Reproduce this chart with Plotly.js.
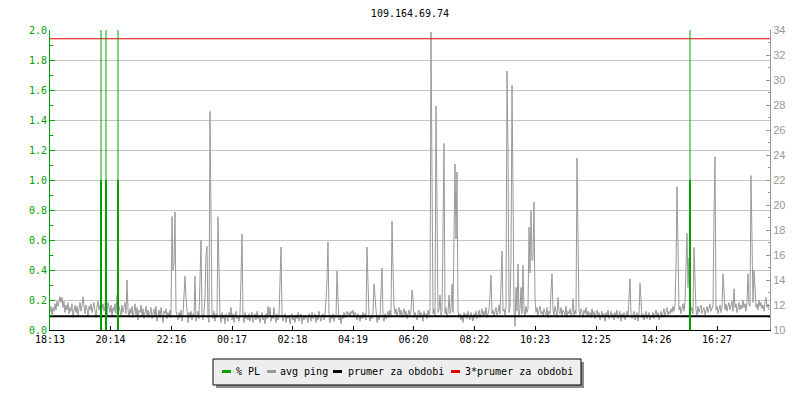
<!DOCTYPE html>
<html>
<head>
<meta charset="utf-8">
<script src="https://cdn.plot.ly/plotly-3.0.1.min.js"></script>
<style>html,body{margin:0;padding:0;background:#fff}#chart{width:800px;height:400px}</style>
</head>
<body>
<div id="chart"></div>
<script>
// ---- data ----
const chartTitle = "109.164.69.74";
const startLabel = "18:13";
const sampleStepMin = 2;           // one sample every 2 minutes
const rangeMinutes = 1440;         // 24 hours shown
const tickMinutes = [0, 121, 243, 364, 485, 606, 727, 849, 970, 1092, 1213, 1334];
const tickLabels = ["18:13", "20:14", "22:16", "00:17", "02:18", "04:19", "06:20", "08:22", "10:23", "12:25", "14:26", "16:27"];

// avg ping [ms], one value per sample
const avgPing = [
11.4,11.9,11.2,11.8,11.5,12.1,11.6,12.3,11.9,12.5,12.66,12.2,12.6,11.8,12.3,11.4,12.0,11.6,12.2,11.3,
11.8,11.5,12.1,11.0,11.7,12.0,11.4,11.9,11.2,11.8,12.2,11.5,11.9,12.66,11.6,11.3,12.0,11.7,11.1,11.9,
11.6,12.1,11.4,11.8,12.2,11.5,11.0,11.9,12.3,11.6,12.0,11.3,11.8,12.1,11.5,11.9,13.2,11.2,12.2,11.7,
11.4,12.0,11.1,11.8,11.5,12.1,11.3,12.8,11.0,11.9,11.6,11.2,12.0,11.4,11.8,12.2,11.3,14.0,11.6,11.1,
11.7,11.3,11.9,11.0,11.5,12.1,11.2,11.8,10.8,11.6,11.4,12.0,11.1,11.7,10.9,11.5,11.9,11.2,11.6,11.0,
11.5,11.8,10.9,11.4,11.7,11.1,11.9,10.7,11.3,11.6,11.0,11.8,11.2,10.6,11.5,11.3,11.7,10.9,11.4,11.1,
11.6,11.0,19.07,14.8,15.3,19.44,11.5,11.2,10.8,11.4,11.0,11.6,10.7,11.3,12.6,14.3,12.6,11.1,10.6,11.4,
11.0,11.5,10.8,11.3,11.1,14.3,10.7,11.2,11.5,10.9,13.9,17.2,11.3,10.8,11.4,12.7,16.0,16.7,11.0,10.6,
27.5,19.07,11.2,10.9,11.5,10.7,11.3,11.0,19.07,14.8,11.1,10.6,11.4,10.9,11.2,10.5,11.3,11.0,10.7,11.4,
11.1,11.8,10.8,11.3,10.6,11.2,11.5,10.9,11.1,10.7,11.3,14.2,17.68,11.0,10.6,11.4,10.9,11.2,10.8,11.3,
10.7,11.1,11.4,10.6,11.0,11.3,10.8,11.5,10.9,11.2,10.6,11.1,11.4,10.8,11.0,10.5,11.3,10.9,11.9,11.1,
11.8,10.7,11.2,10.9,11.8,11.0,10.6,11.3,10.8,11.1,13.7,16.64,11.2,10.7,11.0,11.3,10.6,11.1,10.9,11.2,
10.5,11.0,11.3,10.8,11.1,10.6,11.2,10.9,11.4,10.7,11.0,11.3,10.5,11.1,10.8,11.2,10.9,11.0,10.6,11.3,
11.1,10.7,11.4,10.9,11.0,11.3,10.6,11.2,10.8,11.5,11.0,10.7,11.1,11.3,10.8,11.2,12.48,14.0,17.04,11.0,
10.6,11.2,10.9,11.3,10.7,11.1,11.0,14.72,12.48,10.8,11.2,10.5,11.1,10.9,11.4,11.0,11.3,11.5,11.2,11.4,
11.1,11.5,11.3,11.6,11.0,11.4,11.2,10.8,11.3,11.1,10.7,11.2,10.9,11.4,11.0,11.3,10.8,16.64,13.8,11.1,
10.7,11.2,10.9,11.3,13.7,12.48,11.0,10.6,11.2,10.8,11.1,12.88,14.96,11.0,10.7,11.3,10.9,11.2,11.5,11.0,
11.6,11.2,18.72,14.88,12.0,11.3,11.7,11.1,11.5,11.8,11.2,11.6,11.0,11.4,11.7,11.1,11.5,10.9,11.3,11.6,
11.2,11.5,13.2,12.5,11.0,11.4,11.1,10.8,11.3,11.6,11.0,11.4,11.2,10.7,11.5,11.1,11.3,10.9,11.6,11.2,
11.5,33.84,22.32,11.3,11.7,11.1,27.92,19.44,11.4,11.6,12.8,11.2,11.5,17.94,24.93,11.3,11.8,11.0,11.4,12.8,
11.3,11.6,13.65,11.4,17.28,23.28,17.28,22.64,11.5,11.0,11.3,10.8,11.2,10.6,11.4,11.0,11.3,10.9,11.5,11.1,
10.8,11.4,11.1,10.7,11.3,11.0,11.5,10.9,11.2,11.6,11.0,11.3,11.7,11.1,11.5,11.2,11.8,11.0,11.4,11.6,
12.8,14.37,11.3,11.6,11.1,11.5,11.8,11.2,11.4,12.0,11.3,13.63,16.32,11.5,11.7,11.2,11.9,30.72,24.24,11.4,
11.8,15.92,29.6,21.25,11.6,10.3,13.4,11.5,15.28,11.2,11.7,13.4,11.3,15.17,11.6,11.1,11.9,11.4,11.7,18.24,
14.56,19.55,15.55,15.6,20.24,12.5,11.4,11.8,11.2,11.6,11.9,11.3,11.5,11.1,11.7,11.4,11.2,11.8,11.0,11.5,
11.3,13.1,14.5,11.6,11.2,11.9,11.4,11.0,12.6,11.5,11.3,11.8,11.1,11.6,11.4,11.2,11.9,11.0,11.5,11.3,
11.7,11.2,11.4,12.5,11.1,11.6,11.3,23.76,17.41,11.5,11.2,11.7,11.4,11.0,11.6,11.3,11.8,11.1,11.5,11.2,
11.4,11.0,11.7,11.2,11.5,10.9,11.3,11.6,11.1,11.4,10.8,11.2,11.5,11.0,11.3,10.7,11.4,11.1,11.6,10.9,
11.2,11.5,11.0,11.3,10.8,11.4,11.1,11.6,10.9,11.2,11.5,10.7,11.3,11.0,11.4,10.8,11.2,11.5,11.1,12.64,
14.1,11.3,10.9,11.2,11.5,10.8,11.1,11.4,10.7,11.3,13.73,12.5,11.0,11.3,10.8,11.2,11.5,10.9,11.1,11.4,
10.8,11.2,11.0,11.4,10.9,11.3,11.6,11.1,11.4,10.8,11.2,11.5,11.0,11.3,11.7,11.1,11.4,11.8,11.2,11.5,
11.3,11.7,11.4,11.9,11.5,12.0,15.07,21.47,16.5,11.6,11.9,11.3,11.7,12.1,11.5,12.2,15.07,17.73,13.4,15.78,
12.9,11.5,11.8,11.3,16.6,14.5,11.6,11.2,11.9,11.4,11.7,12.0,11.3,11.6,11.8,11.2,11.5,11.9,11.4,11.7,
12.1,11.5,11.8,12.0,19.2,23.87,11.6,11.9,11.3,11.7,12.0,11.4,11.8,14.5,12.9,11.6,12.1,11.5,11.9,12.2,
11.6,11.9,12.3,11.5,13.3,11.8,12.1,11.4,11.9,12.2,11.6,12.0,11.7,12.4,11.8,12.1,11.5,12.3,14.5,12.0,
11.9,22.35,17.28,12.2,14.8,13.2,11.8,12.1,11.6,12.4,11.9,12.2,11.7,12.0,11.5,12.3,12.6,11.8,12.1,11.6
];
const periodAvg = 11.1;            // prumer za obdobi [ms]

// packet loss events
const plMinutes = [102, 112, 136, 1280];
const plValues = [1.0, 1.0, 1.0, 1.0];

const legendNames = ["% PL", "avg ping", "prumer za obdobi", "3*prumer za obdobi"];

// ---- styles ----
const GREEN = "#00a000", GREY = "#999999", BLACK = "#000000", RED = "#e00000";
const MONO = "DejaVu Sans Mono, monospace";

const pingX = avgPing.map((_, i) => i * sampleStepMin);

const traces = [
  { type: "scatter", mode: "lines", x: pingX, y: avgPing, yaxis: "y",
    line: { color: GREY, width: 1 }, showlegend: false, hoverinfo: "skip" },
  { type: "scatter", mode: "lines", x: [0, rangeMinutes], y: [periodAvg, periodAvg], yaxis: "y",
    line: { color: BLACK, width: 2 }, showlegend: false, hoverinfo: "skip" },
  { type: "scatter", mode: "lines", x: [0, rangeMinutes], y: [3 * periodAvg, 3 * periodAvg], yaxis: "y",
    line: { color: RED, width: 1 }, showlegend: false, hoverinfo: "skip" },
  { type: "bar", x: plMinutes, y: plValues, yaxis: "y2", width: 4,
    marker: { color: GREEN, line: { width: 0 } }, showlegend: false, hoverinfo: "skip" }
];

// pixel -> paper helpers for legend box placement
const L = 50, R = 770, T = 30, B = 330;
const px = v => (v - L) / (R - L);
const py = v => (B - v) / (B - T);

const shapes = plMinutes.map(m => ({
  type: "line", xref: "x", yref: "paper", x0: m, x1: m, y0: 0, y1: 1,
  line: { color: GREEN, width: 1 }, layer: "above"
}));

// custom legend
shapes.push({ type: "rect", xref: "paper", yref: "paper", x0: px(216), x1: px(584), y0: py(362), y1: py(388),
  fillcolor: "#8c8c8c", line: { width: 0 } });
shapes.push({ type: "rect", xref: "paper", yref: "paper", x0: px(213), x1: px(581), y0: py(359), y1: py(385),
  fillcolor: "#eeeeee", line: { color: BLACK, width: 1 } });
const legColors = [GREEN, GREY, BLACK, RED];
const legSym = [222, 267, 333, 451];
const legText = [235, 279, 347, 464];
const annotations = [];
legendNames.forEach((name, k) => {
  shapes.push({ type: "line", xref: "paper", yref: "paper", x0: px(legSym[k]), x1: px(legSym[k] + 9),
    y0: py(371.5), y1: py(371.5), line: { color: legColors[k], width: 3 } });
  annotations.push({ xref: "paper", yref: "paper", x: px(legText[k]), y: py(371), xanchor: "left", yanchor: "middle",
    text: name, showarrow: false, font: { family: MONO, size: 10, color: BLACK }, borderpad: 0 });
});

const layout = {
  width: 800, height: 400,
  margin: { l: L, r: 800 - R, t: T, b: 400 - B },
  paper_bgcolor: "#ffffff", plot_bgcolor: "#ffffff",
  title: { text: chartTitle, x: 0.5, xref: "paper", xanchor: "center", y: 1 - 13 / 400, yref: "container",
    yanchor: "middle", font: { family: MONO, size: 10, color: BLACK } },
  showlegend: false,
  bargap: 0,
  xaxis: {
    range: [0, rangeMinutes], tickmode: "array", tickvals: tickMinutes, ticktext: tickLabels,
    ticks: "inside", ticklen: 4, tickcolor: BLACK, tickwidth: 1,
    showline: true, linecolor: BLACK, linewidth: 1, showgrid: false, zeroline: false,
    tickfont: { family: MONO, size: 10, color: BLACK }, fixedrange: true
  },
  yaxis: {
    side: "right", range: [10, 34], dtick: 2, tick0: 10,
    ticks: "inside", ticklen: 4, tickcolor: GREY, showline: true, linecolor: GREY, linewidth: 1,
    showgrid: false, zeroline: false,
    tickfont: { family: "Liberation Sans, sans-serif", size: 11, color: GREY },
    minor: { dtick: 1, ticks: "inside", ticklen: 2, tickcolor: GREY, showgrid: false },
    fixedrange: true
  },
  yaxis2: {
    overlaying: "y", side: "left", anchor: "x", range: [0, 2], dtick: 0.2, tick0: 0, tickformat: ".1f",
    ticks: "inside", ticklen: 5, tickcolor: GREEN, showline: true, linecolor: GREEN, linewidth: 1,
    showgrid: true, gridcolor: "#c4c4c4", gridwidth: 1, zeroline: false,
    tickfont: { family: MONO, size: 10, color: GREEN },
    minor: { dtick: 0.1, ticks: "inside", ticklen: 3, tickcolor: GREEN, showgrid: false },
    fixedrange: true
  },
  shapes: shapes,
  annotations: annotations
};

Plotly.newPlot("chart", traces, layout, { staticPlot: true, displayModeBar: false });
</script>
</body>
</html>
